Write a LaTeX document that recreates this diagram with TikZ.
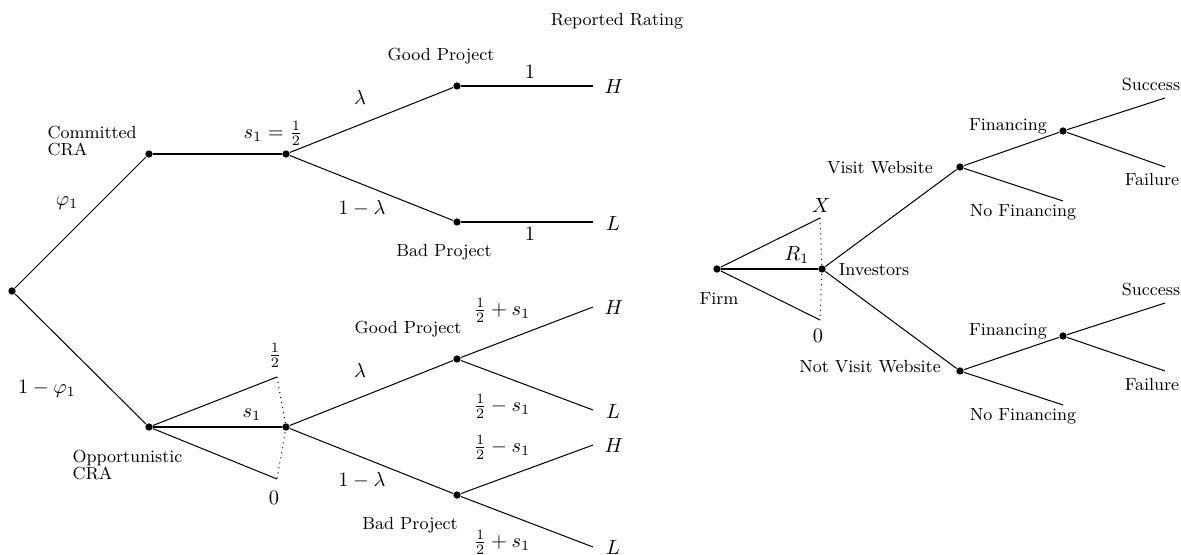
\documentclass[tikz,border=0pt]{standalone}
\begin{document}
\begin{tikzpicture}[x=0.4902pt,y=-0.4902pt, line width=0.5pt,
  dot/.style={circle,fill,inner sep=0pt,minimum size=3.6pt},
  lbl/.style={font=\fontsize{8.6}{10.3}\selectfont,inner sep=0pt},
  ml/.style={inner sep=0pt},
  twoline/.style={font=\fontsize{8.6}{8.5}\selectfont,align=left,inner sep=0pt,anchor=west}]
\useasboundingbox (0,0) rectangle (1181,554);
% ---------- left tree ----------
\node[dot] (root) at (12,291) {};
\node[dot] (com) at (149,154) {};
\node[dot] (cs) at (286,154) {};
\node[dot] (cg) at (457,86) {};
\node[dot] (cb) at (457,222) {};
\coordinate (cgH) at (593,86);
\coordinate (cbL) at (593,222);
\node[dot] (opp) at (149,427) {};
\coordinate (ohalf) at (277,377);
\coordinate (ozero) at (277,479);
\node[dot] (os) at (286,427) {};
\node[dot] (og) at (457,359) {};
\node[dot] (ob) at (457,495) {};
\coordinate (ogH) at (593,307);
\coordinate (ogL) at (593,410);
\coordinate (obH) at (593,445);
\coordinate (obL) at (593,547);
\draw (root) -- (com);
\draw (com) -- (cs);
\draw (cs) -- (cg);
\draw (cg) -- (cgH);
\draw (cs) -- (cb);
\draw (cb) -- (cbL);
\draw (root) -- (opp);
\draw (opp) -- (ohalf);
\draw (opp) -- (os);
\draw (opp) -- (ozero);
\draw[dotted] (ohalf) -- (os.center) -- (ozero);
\draw (os) -- (og);
\draw (og) -- (ogH);
\draw (og) -- (ogL);
\draw (os) -- (ob);
\draw (ob) -- (obH);
\draw (ob) -- (obL);
% labels left
\node[lbl] (rr) at (617,21) {Reported Rating};
\node[twoline] (lcom) at (47,141) {Committed\\CRA};
\node[twoline] (lopp) at (72,465) {Opportunistic\\CRA};
\node[ml] (lphi) at (67,203) {$\varphi_1$};
\node[ml] (lomphi) at (47,389) {$1-\varphi_1$};
\node[ml] (lshalf) at (273,133) {$s_1=\frac{1}{2}$};
\node[ml] (lhalf) at (275,355) {$\frac{1}{2}$};
\node[ml] (ls) at (252,415) {$s_1$};
\node[ml] (lzero) at (274,498) {$0$};
\node[ml] (llam1) at (360,97) {$\lambda$};
\node[ml] (lolam1) at (362,208) {$1-\lambda$};
\node[ml] (llam2) at (360,370) {$\lambda$};
\node[ml] (lolam2) at (362,480) {$1-\lambda$};
\node[lbl] (lgp1) at (441,56) {Good Project};
\node[lbl] (lbp1) at (444,252) {Bad Project};
\node[lbl] (lgp2) at (408,329) {Good Project};
\node[lbl] (lbp2) at (410,525) {Bad Project};
\node[ml] (lone1) at (530,72) {$1$};
\node[ml] (lone2) at (530,234) {$1$};
\node[ml] (lH1) at (614,87) {$H$};
\node[ml] (lL1) at (613,224) {$L$};
\node[ml] (lf1) at (502,310) {$\frac{1}{2}+s_1$};
\node[ml] (lf2) at (502,406) {$\frac{1}{2}-s_1$};
\node[ml] (lf3) at (502,447) {$\frac{1}{2}-s_1$};
\node[ml] (lf4) at (502,542) {$\frac{1}{2}+s_1$};
\node[ml] (lH2) at (614,308) {$H$};
\node[ml] (lL2) at (613,412) {$L$};
\node[ml] (lH3) at (614,446) {$H$};
\node[ml] (lL3) at (613,548) {$L$};
% ---------- right tree ----------
\node[dot] (firm) at (717,269) {};
\coordinate (xe) at (820,218);
\node[dot] (inv) at (822,269) {};
\coordinate (ze) at (820,320);
\node[dot] (vis) at (960,167) {};
\node[dot] (fin1) at (1063,131) {};
\coordinate (s1e) at (1165,98);
\coordinate (f1e) at (1165,167);
\coordinate (nf1e) at (1063,201);
\node[dot] (nv) at (960,371) {};
\node[dot] (fin2) at (1063,336) {};
\coordinate (s2e) at (1165,303);
\coordinate (f2e) at (1165,371);
\coordinate (nf2e) at (1063,405);
\draw (firm) -- (xe);
\draw (firm) -- (inv);
\draw (firm) -- (ze);
\draw[dotted] (xe) -- (inv.center) -- (ze);
\draw (inv) -- (vis);
\draw (vis) -- (fin1);
\draw (fin1) -- (s1e);
\draw (fin1) -- (f1e);
\draw (vis) -- (nf1e);
\draw (inv) -- (nv);
\draw (nv) -- (fin2);
\draw (fin2) -- (s2e);
\draw (fin2) -- (f2e);
\draw (nv) -- (nf2e);
\node[ml] (lX) at (821,206) {$X$};
\node[ml] (lR) at (797,255) {$R_1$};
\node[ml] (lz) at (818,336) {$0$};
\node[lbl] (lfirm) at (719,299) {Firm};
\node[lbl] (linv) at (874,270) {Investors};
\node[lbl] (lvis) at (880,168) {Visit Website};
\node[lbl] (lnv) at (870,367) {Not Visit Website};
\node[lbl] (lfin1) at (1008,126) {Financing};
\node[lbl] (lfin2) at (1008,331) {Financing};
\node[lbl] (lnf1) at (1023,212) {No Financing};
\node[lbl] (lnf2) at (1023,416) {No Financing};
\node[lbl] (lsu1) at (1151,85) {Success};
\node[lbl] (lsu2) at (1151,290) {Success};
\node[lbl] (lfa1) at (1152,180) {Failure};
\node[lbl] (lfa2) at (1152,385) {Failure};
\end{tikzpicture}
\end{document}
